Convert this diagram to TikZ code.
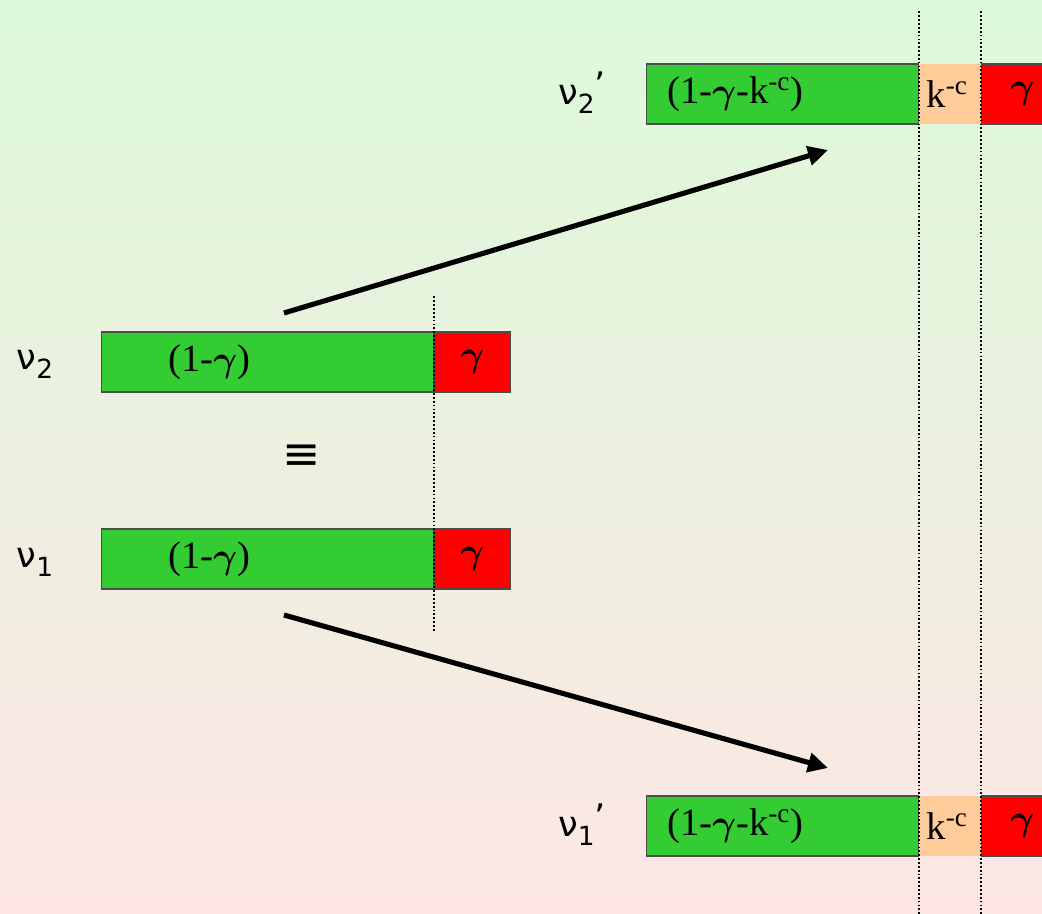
\documentclass[tikz,border=0pt]{standalone}
\usepackage{amsmath}
\usepackage{fontspec}
\setmainfont{Liberation Serif}
\newfontfamily\nufont{DejaVu Sans}
\usetikzlibrary{positioning, arrows.meta}
\definecolor{bgTop}{HTML}{DCFADA}
\definecolor{bgBottom}{HTML}{FDE6E4}
\definecolor{barGreen}{HTML}{33CC33}
\definecolor{barRed}{HTML}{FF0000}
\definecolor{barPeach}{HTML}{FFCC99}
\tikzset{
  seg/.style={
    draw=black!70, line width=0.6pt,
    minimum height=1.2cm, inner sep=0pt,
    font=\fontsize{22}{24}\selectfont
  },
  keep/.style={seg, fill=barGreen, anchor=west},
  lost/.style={seg, fill=barRed, minimum width=1.52cm},
  slice/.style={seg, fill=barPeach, draw=none, minimum width=1.22cm},
  segtext/.style={anchor=west, inner sep=0pt, font=\fontsize{22}{24}\selectfont},
  vlabel/.style={font=\nufont\fontsize{20}{22}\selectfont},
  guide/.style={dash pattern=on 1pt off 1.2pt, line width=1pt},
  move/.style={line width=2.9pt, -{Triangle[length=0.4cm, width=0.38cm]}},
}
\newcommand{\kc}{k\textsuperscript{-c}}
\newcommand{\gam}{$\boldsymbol{\gamma}$}
\newcommand{\nusub}[1]{ν\raisebox{-5pt}{\fontsize{15}{15}\selectfont #1}}

\begin{document}
\begin{tikzpicture}
  \clip (0,0) rectangle (20.84,18.26);
  \shade[top color=bgTop, bottom color=bgBottom] (0,0) rectangle (20.84,18.26);

  % old vectors
  \node[vlabel] (nu2) at (0.7,10.98) {\nusub{2}};
  \node[keep, minimum width=6.64cm] (g2) at (2.02,11.02) {};
  \node[lost, right=0pt of g2] (r2) {\gam};
  \node[segtext] (t2) at ([xshift=1.34cm]g2.west) {(1-\gam)};

  \node (eq) at (6.04,9.12) {\nufont\fontsize{26}{26}\selectfont ≡};

  \node[vlabel] (nu1) at (0.7,7.02) {\nusub{1}};
  \node[keep, minimum width=6.64cm] (g1) at (2.02,7.08) {};
  \node[lost, right=0pt of g1] (r1) {\gam};
  \node[segtext] (t1) at ([xshift=1.34cm]g1.west) {(1-\gam)};

  % new vectors
  \node[vlabel] (nu2p) at (11.64,16.4) {\nusub{2}\raisebox{4pt}{’}};
  \node[keep, minimum width=5.44cm] (g2p) at (12.92,16.38) {};
  \node[slice, right=0pt of g2p] (k2p) {\hspace{-0.12cm}\kc};
  \node[lost, minimum width=1.64cm, right=0pt of k2p] (r2p) {\gam};
  \node[segtext] (t2p) at ([xshift=0.42cm]g2p.west) {(1-\gam-\kc)};

  \node[vlabel] (nu1p) at (11.64,1.76) {\nusub{1}\raisebox{4pt}{’}};
  \node[keep, minimum width=5.44cm] (g1p) at (12.92,1.74) {};
  \node[slice, right=0pt of g1p] (k1p) {\hspace{-0.12cm}\kc};
  \node[lost, minimum width=1.64cm, right=0pt of k1p] (r1p) {\gam};
  \node[segtext] (t1p) at ([xshift=0.42cm]g1p.west) {(1-\gam-\kc)};

  % guides
  \draw[guide] ([yshift=0.7cm]r2.north west) -- ([yshift=-0.82cm]r1.south west);
  \draw[guide] ([yshift=1.04cm]k2p.north west) -- ([yshift=-1.3cm]k1p.south west);
  \draw[guide] ([yshift=1.04cm]r2p.north west) -- ([yshift=-1.3cm]r1p.south west);

  % arrows
  \coordinate (a2s) at (5.68,12.0);
  \coordinate (a2e) at (16.56,15.26);
  \coordinate (a1s) at (5.68,5.96);
  \coordinate (a1e) at (16.56,2.9);
  \draw[move] (a2s) -- (a2e);
  \draw[move] (a1s) -- (a1e);
\end{tikzpicture}
\end{document}
